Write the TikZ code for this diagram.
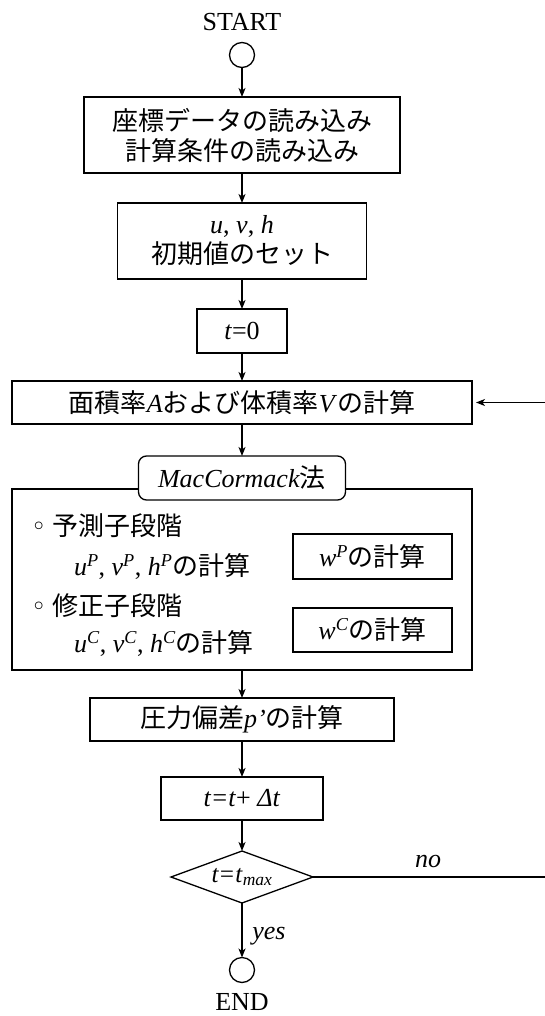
\documentclass[tikz,border=0pt]{standalone}
\usepackage{fontspec}
\setmainfont{Liberation Serif}
\newfontfamily\jp{Noto Sans CJK JP}
\newfontfamily\dv{DejaVu Sans}
\usetikzlibrary{shapes.geometric,arrows.meta}
\newcommand\J[1]{{\jp #1}}
\newcommand\I[1]{\textit{#1}}
\newcommand\bul{{\dv ◦}}
\begin{document}
\begin{tikzpicture}[x=1pt,y=-1pt,
  every node/.style={inner sep=0pt,outer sep=0pt},
  txt/.style={font=\fontsize{26}{30}\selectfont},
  box/.style={draw,line width=1.3pt,fill=white,font=\fontsize{26}{30}\selectfont,align=center},
  term/.style={draw,circle,line width=1.3pt,minimum size=25pt},
  arr/.style={line width=1.3pt,-{Stealth[length=9pt,width=7pt,inset=2.5pt]}},
]
\useasboundingbox (0,0) rectangle (545,1016);

\node[txt] (st) at (242,22) {START};
\node[term] (sc) at (242,55) {};

\node[box,minimum width=316pt,minimum height=76pt] (b1) at (242,135)
  {\J{座標データの読み込み}\\\J{計算条件の読み込み}};
\node[box,minimum width=249pt,minimum height=76pt] (b2) at (242,241)
  {\I{u}, \I{v}, \I{h}\\\J{初期値のセット}};
\node[box,minimum width=90pt,minimum height=44pt] (b3) at (242,331)
  {\I{t}=0};
\node[box,minimum width=460pt,minimum height=43pt] (b4) at (242,402.5)
  {\J{面積率}\I{A}\J{および体積率}\I{V}\J{の計算}};

\node[box,minimum width=460pt,minimum height=181pt] (outer) at (242,579.5) {};
\node[box,rounded corners=8pt,minimum width=207pt,minimum height=44pt] (mac) at (242,478)
  {\I{MacCormack}\J{法}};

\node[txt,anchor=west] (l1) at (31,526) {\bul\ \J{予測子段階}};
\node[txt,anchor=west] (l2) at (74,567)
  {\I{u}\textsuperscript{\I{P}}, \I{v}\textsuperscript{\I{P}}, \I{h}\textsuperscript{\I{P}}\J{の計算}};
\node[txt,anchor=west] (l3) at (31,606) {\bul\ \J{修正子段階}};
\node[txt,anchor=west] (l4) at (74,644)
  {\I{u}\textsuperscript{\I{C}}, \I{v}\textsuperscript{\I{C}}, \I{h}\textsuperscript{\I{C}}\J{の計算}};

\node[box,minimum width=159pt,minimum height=45pt] (wp) at (372.5,556.5)
  {\I{w}\textsuperscript{\I{P}}\J{の計算}};
\node[box,minimum width=159pt,minimum height=44pt] (wc) at (372.5,630)
  {\I{w}\textsuperscript{\I{C}}\J{の計算}};

\node[box,minimum width=304pt,minimum height=43pt] (b5) at (242,719.5)
  {\J{圧力偏差}\I{p’}\J{の計算}};
\node[box,minimum width=162pt,minimum height=43pt] (b6) at (242,798.5)
  {\I{t=t}+ \I{Δt}};
\node[draw,diamond,aspect=2.73,line width=1.3pt,fill=white,minimum width=142pt,minimum height=52pt,
  font=\fontsize{25}{28}\selectfont] (dia) at (242,877)
  {\I{t=t}\textsubscript{\I{max}}};

\node[term] (ec) at (242,970) {};
\node[txt] (en) at (242,1002) {END};

\node[txt] (yes) at (269,936) {\I{yes}};
\node[txt] (no) at (428,861) {\I{no}};

\coordinate (c1) at (549,877);
\coordinate (c2) at (549,402.5);

\draw[arr] (sc) -- (b1);
\draw[arr] (b1) -- (b2);
\draw[arr] (b2) -- (b3);
\draw[arr] (b3) -- (b4);
\draw[arr] (b4) -- (mac);
\draw[arr] (outer) -- (b5);
\draw[arr] (b5) -- (b6);
\draw[arr] (b6) -- (dia);
\draw[arr] (dia) -- (ec);
\draw[arr,shorten >=4pt] (dia.east) -- (c1) -- (c2) -- (b4.east);
\end{tikzpicture}
\end{document}
